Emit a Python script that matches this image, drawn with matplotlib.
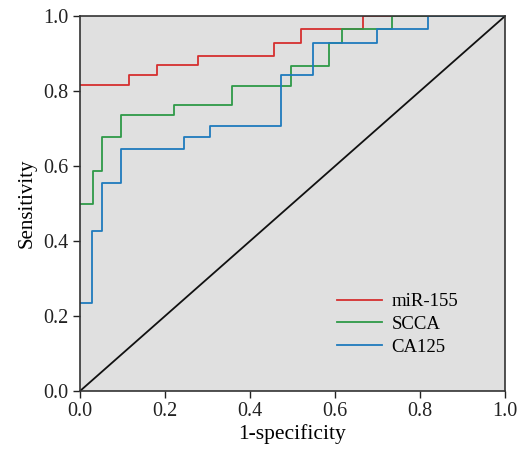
import matplotlib
matplotlib.use("Agg")
import matplotlib.pyplot as plt

plt.rcParams['font.family'] = ['Liberation Serif', 'DejaVu Serif']

# ROC step points (1-specificity, sensitivity)
mir_x = [0.0, 0.116, 0.116, 0.182, 0.182, 0.278, 0.278, 0.456, 0.456, 0.52, 0.52, 0.665, 0.665, 1.0]
mir_y = [0.816, 0.816, 0.843, 0.843, 0.869, 0.869, 0.895, 0.895, 0.929, 0.929, 0.966, 0.966, 1.0, 1.0]

scca_x = [0.0, 0.03, 0.03, 0.052, 0.052, 0.096, 0.096, 0.222, 0.222, 0.358, 0.358,
          0.496, 0.496, 0.586, 0.586, 0.616, 0.616, 0.735, 0.735, 1.0]
scca_y = [0.498, 0.498, 0.586, 0.586, 0.678, 0.678, 0.737, 0.737, 0.763, 0.763, 0.815,
          0.815, 0.868, 0.868, 0.929, 0.929, 0.966, 0.966, 1.0, 1.0]

ca_x = [0.0, 0.029, 0.029, 0.052, 0.052, 0.096, 0.096, 0.245, 0.245, 0.307, 0.307,
        0.473, 0.473, 0.549, 0.549, 0.698, 0.698, 0.82, 0.82, 1.0]
ca_y = [0.236, 0.236, 0.427, 0.427, 0.554, 0.554, 0.646, 0.646, 0.678, 0.678, 0.707,
        0.707, 0.842, 0.842, 0.929, 0.929, 0.966, 0.966, 1.0, 1.0]

ticks = [0.0, 0.2, 0.4, 0.6, 0.8, 1.0]

fig = plt.figure(figsize=(5.2, 4.5), dpi=100)
ax = fig.add_axes([0.1538, 0.131, 0.8172, 0.833])
ax.set_facecolor('#e0e0e0')

ax.plot(mir_x, mir_y, color='#d62f2f', lw=1.3, label='miR-155')
ax.plot(scca_x, scca_y, color='#2e9a48', lw=1.3, label='SCCA')
ax.plot(ca_x, ca_y, color='#1f7bbd', lw=1.3, label='CA125')
ax.plot([0, 1], [0, 1], color='#111111', lw=1.3)

ax.set_xlim(0, 1)
ax.set_ylim(0, 1)
ax.set_xticks(ticks)
ax.set_yticks(ticks)
ax.set_xticklabels(['%.1f' % t for t in ticks])
ax.set_yticklabels(['%.1f' % t for t in ticks])
ax.tick_params(direction='out', length=5, width=1, colors='#222222', labelsize=14.5, pad=3)
for s in ax.spines.values():
    s.set_color('#333333')
    s.set_linewidth(1.2)

ax.set_xlabel('1-specificity', fontsize=15.5, labelpad=2)
ax.set_ylabel('Sensitivity', fontsize=15, labelpad=5)

ax.legend(loc='lower right', bbox_to_anchor=(0.93, 0.049), frameon=False, fontsize=13.5,
          handlelength=2.4, labelspacing=0.3, handletextpad=0.5)

fig.savefig('out.png', dpi=100)
